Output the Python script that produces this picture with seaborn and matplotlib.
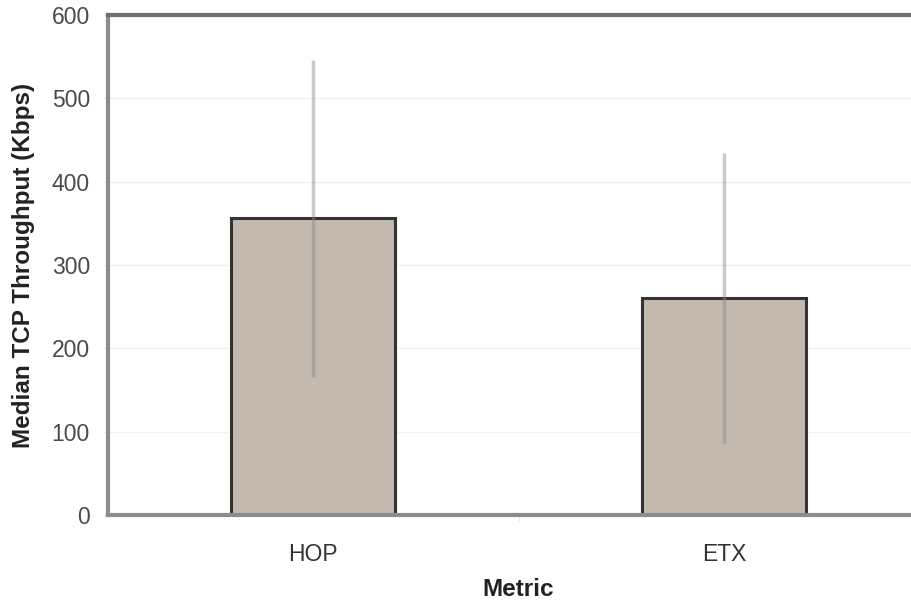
import matplotlib
matplotlib.use("Agg")
import matplotlib.pyplot as plt
import seaborn as sns
import pandas as pd
import numpy as np

metrics = ["HOP", "ETX"]
median_tput = [356, 260]
err_low = [166, 86]
err_high = [546, 434]
y_ticks = [0, 100, 200, 300, 400, 500, 600]

sns.set_style("white")
plt.rcParams['font.family'] = ['Liberation Sans', 'DejaVu Sans']

fig = plt.figure(figsize=(9.11, 6.06), dpi=100)
ax = fig.add_axes([108/911, 1-515/606, 1-108/911+0.02, 500/606])

df = pd.DataFrame({"Metric": metrics, "Median": median_tput})
sns.barplot(data=df, x="Metric", y="Median", ax=ax, color="#C2B9AF",
            edgecolor="#333333", linewidth=2.2, width=0.4, errorbar=None,
            saturation=1, zorder=2)

xs = np.arange(len(metrics))
ax.vlines(xs, err_low, err_high, colors="#8a8a8a", alpha=0.45, linewidth=2.5, zorder=3)

ax.set_ylim(0, 600)
ax.set_yticks(y_ticks)
ax.set_xlim(-0.5, 1.5)
ax.yaxis.grid(True, color="#f2f2f2", linewidth=1)
ax.set_axisbelow(True)

for s in ["left", "bottom"]:
    ax.spines[s].set_color("#8c8c8c")
    ax.spines[s].set_linewidth(3)
ax.spines["top"].set_color("#6e6e6e")
ax.spines["top"].set_linewidth(3)
ax.spines["right"].set_visible(False)

ax.tick_params(axis="y", labelsize=16.5, labelcolor="#4a4a4a", length=3, color="#e0e0e0", pad=10, left=True)
ax.tick_params(axis="x", labelsize=16.5, labelcolor="#333333", length=0, pad=20)
ax.set_xticks([0.5], minor=True)
ax.tick_params(axis="x", which="minor", length=4, color="#e5e5e5", bottom=True)

ax.set_ylabel("Median TCP Throughput (Kbps)", fontsize=17.5, fontweight="bold", color="#222222", labelpad=12)
ax.set_xlabel("Metric", fontsize=17.5, fontweight="bold", color="#222222", labelpad=9)

fig.savefig("out.png", dpi=100)
